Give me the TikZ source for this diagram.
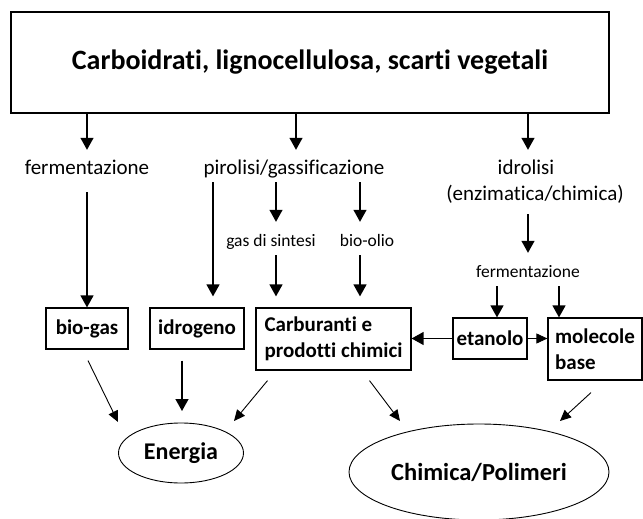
\documentclass[tikz,border=0pt]{standalone}
\usepackage{fontspec}
\setmainfont{Carlito}[Ligatures={NoCommon}]
\usetikzlibrary{arrows.meta,shapes.geometric}
\begin{document}
\begin{tikzpicture}[x=1pt,y=-1pt,
  box/.style={draw, line width=1.2pt, inner sep=0pt, font=\fontsize{21}{25.5}\selectfont\bfseries},
  lbl/.style={inner xsep=0pt, inner ysep=10pt, text height=14pt, text depth=4pt, font=\fontsize{21}{24}\selectfont},
  small/.style={inner xsep=0pt, inner ysep=6pt, text height=11pt, text depth=3pt, font=\fontsize{17.5}{20}\selectfont},
  oval/.style={draw, ellipse, line width=0.9pt, inner sep=0pt},
  arr/.style={line width=1.3pt, -{Triangle[width=13pt,length=12pt]}},
  arrd/.style={line width=0.9pt, -{Triangle[width=10pt,length=11pt]}}]
\useasboundingbox (0,0) rectangle (643,519);

% boxes
\node[box, minimum width=598pt, minimum height=101pt, font=\fontsize{28}{32}\selectfont\bfseries] (top) at (310,62.5) {Carboidrati, lignocellulosa, scarti vegetali};
\node[box, minimum width=82pt, minimum height=41pt] (biogas) at (87,328.5) {bio-gas};
\node[box, minimum width=94pt, minimum height=41pt] (idrogeno) at (197,328.5) {idrogeno};
\node[box, minimum width=155pt, minimum height=62pt, align=left] (carb) at (333.5,339) {Carburanti e\\prodotti chimici};
\node[box, minimum width=74pt, minimum height=41pt] (etanolo) at (490,338.5) {etanolo};
\node[box, minimum width=94pt, minimum height=62pt, align=left] (molecole) at (595,349) {molecole\\base};
\node[oval, minimum width=125pt, minimum height=60pt, font=\fontsize{24}{28}\selectfont\bfseries] (energia) at (181,453) {Energia};
\node[oval, minimum width=260pt, minimum height=96pt, font=\fontsize{24.5}{28}\selectfont\bfseries] (chimica) at (479,472) {Chimica/Polimeri};

% labels
\node[lbl] (ferm1) at (87,169) {fermentazione};
\node[lbl] (piro) at (294,169) {pirolisi/gassificazione};
\node[lbl] (idro) at (526,169) {idrolisi};
\node[lbl] (enz) at (535,195) {(enzimatica/chimica)};
\node[small] (gas) at (271,242) {gas di sintesi};
\node[small] (bioolio) at (367,242) {bio-olio};
\node[small] (ferm2) at (528,273) {fermentazione};

% x positions of vertical connectors
\coordinate (xf) at (87,0);
\coordinate (xp) at (296,0);
\coordinate (xi) at (528,0);
\coordinate (xh) at (213,0);
\coordinate (xg) at (276,0);
\coordinate (xb) at (360,0);
\coordinate (xe) at (497,0);
\coordinate (xm) at (559,0);

% top arrows
\draw[arr] (top.south -| xf) -- (ferm1.north -| xf);
\draw[arr] (top.south -| xp) -- (piro.north -| xp);
\draw[arr] (top.south -| xi) -- (idro.north -| xi);

% fermentazione -> bio-gas
\draw[arr] ([yshift=-4pt]ferm1.south -| xf) -- (biogas.north -| xf);
% pirolisi branches
\draw[arr, shorten <=-6pt, shorten >=11pt] (piro.south -| xh) -- (idrogeno.north -| xh);
\draw[arr, shorten <=-6pt, shorten >=7pt] (piro.south -| xg) -- (gas.north -| xg);
\draw[arr, shorten <=-6pt, shorten >=7pt] (piro.south -| xb) -- (bioolio.north -| xb);
\draw[arr, shorten >=11pt] (gas.south -| xg) -- (carb.north -| xg);
\draw[arr, shorten >=11pt] (bioolio.south -| xb) -- (carb.north -| xb);
% idrolisi branch
\draw[arr, shorten >=7pt] (enz.south -| xi) -- (ferm2.north -| xi);
\draw[arr] (ferm2.south -| xe) -- (etanolo.north -| xe);
\draw[arr] (ferm2.south -| xm) -- (molecole.north -| xm);

% etanolo outputs
\draw[arr] (etanolo.west) -- (etanolo.west -| carb.east);
\draw[arrd] (etanolo.east) -- (etanolo.east -| molecole.west);

% arrows to ovals
\coordinate (eA) at (118,422);
\coordinate (eB) at (182,411);
\coordinate (eC) at (234,421);
\coordinate (cA) at (400,421);
\coordinate (cB) at (560,421);
\draw[arrd] ([xshift=1pt,yshift=-11pt]biogas.south) -- (eA);
\draw[arr] ([xshift=-15pt,yshift=-11pt]idrogeno.south) -- (eB);
\draw[arrd] ([xshift=-66pt,yshift=-10pt]carb.south) -- (eC);
\draw[arrd] ([xshift=36pt,yshift=-10pt]carb.south) -- (cA);
\draw[arrd] ([xshift=-4pt,yshift=-12pt]molecole.south) -- (cB);
\end{tikzpicture}
\end{document}
